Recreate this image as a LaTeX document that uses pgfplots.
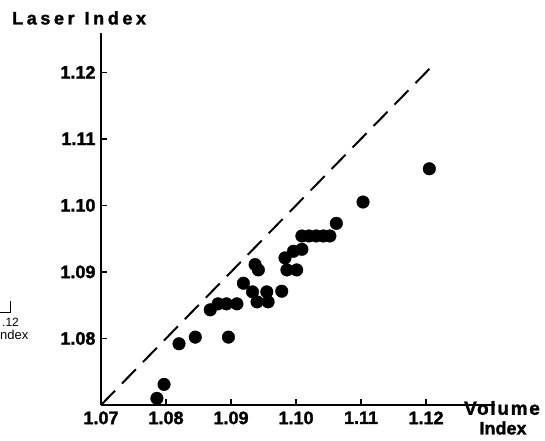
\documentclass[border=0pt]{standalone}
\usepackage{fontspec}
\setmainfont{Liberation Sans}[BoldFeatures={FakeBold=1.6}]
\newfontfamily\wideA{Liberation Sans}[LetterSpace=20, BoldFeatures={FakeBold=1.6}]
\newfontfamily\wideB{Liberation Sans}[LetterSpace=9, BoldFeatures={FakeBold=1.6}]
\usepackage{pgfplots}
\usepackage{pgfplotstable}
\pgfplotsset{compat=1.18}

% volume index vs laser index
\pgfplotstableread{
x y
1.0786 1.0710
1.0797 1.0731
1.0820 1.0792
1.0845 1.0802
1.0896 1.0802
1.0868 1.0843
1.0880 1.0852
1.0893 1.0852
1.0909 1.0852
1.0919 1.0883
1.0933 1.0870
1.0937 1.0911
1.0942 1.0903
1.0940 1.0855
1.0957 1.0855
1.0955 1.0870
1.0978 1.0871
1.0983 1.0921
1.0996 1.0931
1.1009 1.0934
1.0986 1.0903
1.1001 1.0903
1.1009 1.0954
1.1020 1.0954
1.1031 1.0954
1.1042 1.0954
1.1052 1.0954
1.1062 1.0973
1.1103 1.1005
1.1205 1.1055
}\ratios

\begin{document}
\begin{tikzpicture}[x=1pt,y=1pt]
\useasboundingbox (-101,-35) rectangle (444,405);
\begin{axis}[
    at={(0,0)}, anchor=south west,
    scale only axis,
    width=394pt, height=372pt,
    xmin=1.07, xmax=1.1306,
    ymin=1.07, ymax=1.1259,
    axis x line=bottom, axis y line=left,
    axis line style={-, line width=1.6pt},
    xtick={1.07,1.08,1.09,1.10,1.11,1.12},
    xticklabels={1.07,1.08,1.09,1.10,1.11,1.12},
    ytick={1.08,1.09,1.10,1.11,1.12},
    yticklabels={1.08,1.09,1.10,1.11,1.12},
    tick align=inside,
    major tick length=6pt,
    tick style={line width=1.4pt, black},
    ticklabel style={font=\fontsize{18}{20}\selectfont\bfseries},
    xticklabel style={yshift=-3pt},
    yticklabel style={xshift=-2pt},
    clip=false,
]
\addplot[black, line width=2pt, dash pattern=on 20pt off 10pt] coordinates {(1.07,1.07) (1.1215,1.1215)};
\addplot[only marks, mark=*, mark size=6.3pt, black] table {\ratios};
\end{axis}
\node[anchor=west, inner sep=0pt] at (-89,387) {\fontsize{18}{20}\selectfont\wideA\bfseries Laser\hspace{10pt}Index};
\node[inner sep=0pt] at (401,-3) {\fontsize{19}{20}\selectfont\wideB\bfseries Volume};
\node[inner sep=0pt] at (402,-23) {\fontsize{18}{20}\selectfont\bfseries Index};
\draw[line width=1pt] (-101,93) -- (-90,93) -- (-90,104);
\node[anchor=west, inner sep=0pt] at (-99,83) {\fontsize{12}{14}\selectfont .12};
\node[anchor=west, inner sep=0pt] at (-101,70) {\fontsize{13}{14}\selectfont ndex};
\end{tikzpicture}
\end{document}
